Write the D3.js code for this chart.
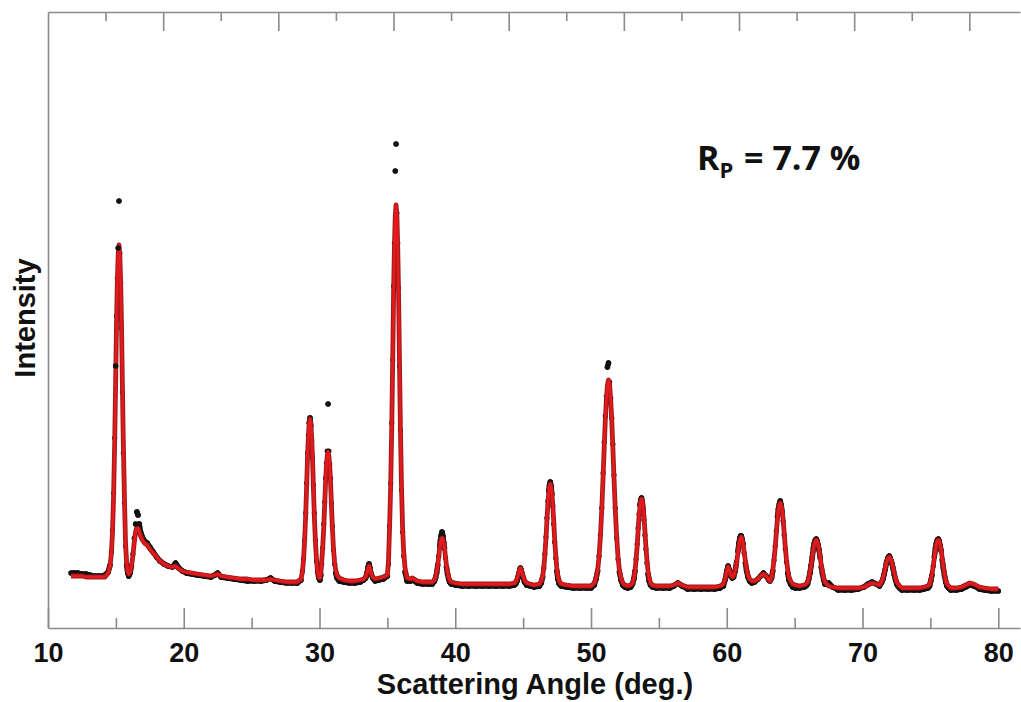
<!DOCTYPE html>
<html><head><meta charset="utf-8">
<script src="https://cdn.jsdelivr.net/npm/d3@7"></script>
<style>
body{margin:0;background:#fff;}
.lbl{font-family:"Liberation Sans",Arial,sans-serif;font-weight:bold;fill:#111;}
</style></head><body>
<svg id="chart" width="1021" height="702"></svg>
<script>
// ---- data: scattering angle (deg), observed and calculated intensities (arb. units) ----
const angles = [
 11.70,11.90,12.20,12.50,12.80,13.10,13.40,13.70,14.00,14.20,
 14.43,14.57,14.67,14.75,14.83,14.91,14.98,15.05,15.11,15.17,15.23,15.29,15.35,15.41,15.48,15.55,15.63,15.71,15.79,15.87,
 15.95,16.05,16.15,16.25,16.35,16.45,16.55,16.63,16.72,16.82,16.95,17.10,17.30,17.50,17.75,18.00,18.25,18.55,18.85,19.15,19.40,19.65,19.90,20.20,20.60,21.00,21.50,22.00,22.30,22.50,22.75,23.20,23.70,24.20,24.70,25.20,25.70,26.10,26.40,26.70,27.10,27.60,28.00,28.35,
 28.64,28.74,28.82,28.90,28.98,29.05,29.12,29.18,29.24,29.30,29.36,29.42,29.48,29.55,29.62,29.70,29.78,29.86,29.96,30.03,
 30.10,30.16,30.23,30.31,30.38,30.45,30.51,30.57,30.63,30.69,30.75,30.81,30.88,30.95,31.03,31.11,31.19,31.29,31.45,
 31.80,32.20,32.60,33.00,33.25,33.40,33.50,33.58,33.65,33.72,33.80,33.92,34.10,34.40,34.70,35.00,
 35.08,35.16,35.24,35.32,35.39,35.46,35.52,35.58,35.64,35.70,35.76,35.82,35.89,35.96,36.04,36.12,36.20,36.30,36.45,
 36.70,36.85,37.20,37.60,38.00,38.30,38.47,38.55,38.63,38.71,38.78,38.85,38.91,38.97,39.03,39.09,39.15,39.21,39.28,39.35,39.43,39.51,39.59,39.70,
 40.00,40.50,41.00,41.50,42.00,42.50,43.00,43.50,44.00,44.35,44.45,44.55,44.63,44.70,44.75,44.80,44.86,44.93,45.00,45.10,45.25,45.50,45.80,
 46.20,46.34,46.44,46.52,46.60,46.68,46.75,46.82,46.88,46.94,47.00,47.06,47.12,47.18,47.25,47.32,47.40,47.48,47.56,47.66,47.80,
 48.20,48.70,49.20,49.70,50.00,
 50.24,50.37,50.49,50.59,50.69,50.79,50.89,50.97,51.05,51.13,51.21,51.29,51.37,51.45,51.53,51.61,51.69,51.79,51.89,51.99,52.09,52.21,52.34,
 52.50,52.70,52.92,53.06,53.16,53.24,53.32,53.40,53.47,53.54,53.60,53.66,53.72,53.78,53.84,53.90,53.97,54.04,54.12,54.20,54.28,54.38,54.52,
 54.80,55.30,55.80,56.10,56.40,56.70,57.10,57.60,58.10,58.60,59.10,59.50,
 59.75,59.90,60.00,60.10,60.20,60.30,60.40,60.50,60.62,60.72,60.82,60.90,60.96,61.02,61.07,61.13,61.20,61.28,61.37,61.46,61.56,61.68,61.85,62.05,62.30,62.50,62.70,62.90,63.10,63.18,
 63.30,63.39,63.48,63.57,63.65,63.73,63.80,63.87,63.94,64.01,64.08,64.15,64.23,64.31,64.40,64.49,64.58,64.70,64.85,65.05,
 65.35,65.70,65.83,65.95,66.04,66.13,66.22,66.30,66.38,66.45,66.52,66.59,66.66,66.73,66.80,66.88,66.96,67.05,67.14,67.23,67.35,67.50,67.80,
 68.20,68.70,69.20,69.70,70.10,70.40,70.70,71.00,71.25,71.33,71.42,71.51,71.60,71.68,71.76,71.83,71.90,71.97,72.04,72.11,72.18,72.26,72.34,72.43,72.52,72.61,72.73,72.90,
 73.30,73.80,74.20,74.55,74.82,74.94,75.03,75.12,75.21,75.29,75.37,75.44,75.51,75.58,75.65,75.72,75.79,75.87,75.95,76.04,76.13,76.22,76.34,76.50,76.90,77.30,77.60,77.90,78.20,78.60,79.00,79.50,80.00
];
const calculated = [
 52,52,52,52,51,51,51,51,51,51,
 55,62,75,95,131,184,244,307,347,373,383,373,347,307,244,184,131,85,66,57,
 54,56,62,72,85,96,101,100,96,92,88,85,83,79,75,71,67,64,62,61,62,59,57,56,55,54,53,52,53,54,52,51,50,49,49,48,48,48,49,48,47,46,46,46,
 49,56,68,86,112,141,172,191,204,209,204,191,172,141,112,86,68,56,51,50,
 55,66,79,100,123,147,162,172,176,172,162,147,123,100,79,66,58,53,50,
 48,47,47,48,49,51,55,60,62,60,55,51,49,50,51,53,
 66,100,141,200,267,338,382,412,423,412,382,338,267,200,141,100,76,60,50,
 49,50,47,46,46,46,48,51,56,63,71,80,85,89,90,89,85,80,71,63,56,51,48,46,
 45,44,44,44,44,44,44,44,44,45,46,49,53,56,59,60,58,55,52,48,45,44,43,
 44,47,52,60,73,89,107,124,134,141,144,141,134,124,107,89,73,60,52,47,44,
 43,42,42,42,42,
 45,50,58,71,91,118,151,180,207,228,243,248,243,228,207,180,151,118,91,71,58,50,45,
 43,42,43,45,50,57,68,82,97,112,120,127,129,127,120,112,97,82,68,57,50,45,43,
 42,42,42,43,45,43,41,41,41,41,41,42,
 44,50,57,61,58,53,51,52,57,65,75,83,88,90,91,89,84,76,67,59,53,49,47,47,49,52,54,52,48,47,
 51,58,68,81,95,109,117,123,125,123,117,109,95,81,68,58,51,47,44,43,
 42,43,44,46,50,56,63,71,79,83,87,88,87,83,79,71,63,56,50,46,44,42,41,
 40,40,40,40,41,43,45,44,43,45,47,50,55,60,65,68,70,71,70,68,65,60,55,50,46,44,42,40,
 40,40,40,41,42,44,48,54,62,70,78,83,87,88,87,83,78,70,62,54,48,44,42,40,40,41,43,45,44,41,40,39,39
];
const observed = [
 55,55,55,54,54,53,52,52,52,53,
 56,63,76,98,135,190,262,312,350,380,427,375,345,300,236,175,125,82,63,55,
 52,55,62,74,90,104,116,113,104,96,91,87,85,81,76,71,67,64,62,61,65,60,57,55,54,53,52,51,53,55,51,50,49,48,47,47,47,48,50,47,46,45,45,45,
 48,57,69,88,115,145,175,193,205,210,202,188,170,143,115,88,67,56,50,48,
 53,64,80,104,126,150,165,177,224,177,164,150,125,102,78,64,55,50,47,
 46,45,45,46,48,50,55,61,64,60,54,50,47,48,49,52,
 64,102,145,205,268,342,385,457,484,415,385,340,262,198,138,96,72,56,47,
 47,48,45,44,44,44,47,50,55,63,72,82,88,93,96,92,86,80,70,61,54,49,46,44,
 43,42,42,42,42,42,42,42,42,43,44,47,51,55,58,60,58,54,50,46,43,42,41,
 42,45,51,60,74,91,110,127,137,143,146,142,134,122,104,86,70,57,49,44,42,
 41,40,40,40,40,
 43,49,57,72,93,120,155,186,212,232,261,265,246,230,210,184,153,120,90,69,56,48,43,
 41,40,41,44,49,57,69,84,100,114,123,128,130,126,118,108,93,79,65,54,47,43,41,
 40,40,40,42,45,42,39,39,39,39,39,40,
 42,49,57,62,58,52,50,51,57,66,77,85,90,92,92,89,84,75,65,57,51,47,45,46,49,52,55,52,48,47,
 50,57,68,82,97,111,119,124,127,123,116,107,93,79,66,55,48,44,41,40,
 40,41,42,44,49,55,63,71,80,85,88,89,87,83,78,70,61,54,48,44,44,45,41,
 38,38,38,39,41,44,46,44,42,44,46,49,54,59,65,68,71,72,70,67,64,59,53,48,44,42,40,38,
 38,38,38,39,40,42,47,53,62,71,80,85,88,89,87,82,77,68,60,52,46,42,40,38,38,39,41,43,42,39,38,37,37
];
const xTicksMajor = [10,20,30,40,50,60,70,80];
const xTicksMinor = [15,25,35,45,55,65,75];
const topTicksMajor = [1,2,3,4,5,6,7,8];
const topTicksMinor = [0.5,1.5,2.5,3.5,4.5,5.5,6.5,7.5];
const xTitle = "Scattering Angle (deg.)";
const yTitle = "Intensity";
const rpMain = "R", rpSub = "P", rpRest = " = 7.7 %";

// ---- layout ----
const svg = d3.select("#chart");
const L = 48, R = 1020, T = 12, B = 628;
const x = d3.scaleLinear().domain([10, 81.6]).range([L, R]);
const xTop = d3.scaleLinear().domain([0, 8.44]).range([L, R]);
const y = d3.scaleLinear().domain([0, 616]).range([B, T]);
const axisColor = "#8a8a8a";

const pts = angles.map((a, i) => ({a, o: observed[i], c: calculated[i]}));

// observed: dense points merge into a band; isolated points stay as dots
const gObs = svg.append("g");
const segs = [];
for (let i = 0; i < pts.length - 1; i++) {
  if (Math.abs(y(pts[i].o) - y(pts[i+1].o)) < 9) segs.push([pts[i], pts[i+1]]);
}
gObs.selectAll("line").data(segs).join("line")
  .attr("x1", d => x(d[0].a)).attr("y1", d => y(d[0].o))
  .attr("x2", d => x(d[1].a)).attr("y2", d => y(d[1].o))
  .attr("stroke", "#111").attr("stroke-width", 5.4).attr("stroke-linecap", "round");
gObs.selectAll("circle").data(pts).join("circle")
  .attr("cx", d => x(d.a)).attr("cy", d => y(d.o)).attr("r", 2.6).attr("fill", "#111");

// calculated profile
const line = d3.line().x(d => x(d.a)).y(d => y(d.c));
svg.append("path").datum(pts).attr("d", line).attr("fill", "none")
  .attr("stroke", "#9a1b1b").attr("stroke-width", 4.8).attr("stroke-linejoin", "round");
svg.append("path").datum(pts).attr("d", line).attr("fill", "none")
  .attr("stroke", "#e3191c").attr("stroke-width", 2.8).attr("stroke-linejoin", "round");

// isolated observed points (outliers) above the curve
svg.append("g").selectAll("circle").data(pts.filter(d => d.o - d.c > 6)).join("circle")
  .attr("cx", d => x(d.a)).attr("cy", d => y(d.o)).attr("r", 2.7).attr("fill", "#111");

// ---- axes ----
function styleAxis(g) {
  g.selectAll("path,line").attr("stroke", axisColor).attr("stroke-width", 1.6);
}
const gx = svg.append("g").attr("transform", `translate(0,${B})`)
  .call(d3.axisBottom(x).tickValues(xTicksMajor).tickSize(-20).tickSizeOuter(0).tickPadding(15).tickFormat(d3.format("d")));
gx.call(styleAxis);
gx.selectAll("text").attr("class", "lbl").style("font-size", "27px");
const gxm = svg.append("g").attr("transform", `translate(0,${B})`)
  .call(d3.axisBottom(x).tickValues(xTicksMinor).tickSize(-10).tickFormat(""));
gxm.call(styleAxis); gxm.select(".domain").remove();

const gt = svg.append("g").attr("transform", `translate(0,${T})`)
  .call(d3.axisTop(xTop).tickValues(topTicksMajor).tickSize(-19).tickSizeOuter(0).tickFormat(""));
gt.call(styleAxis);
const gtm = svg.append("g").attr("transform", `translate(0,${T})`)
  .call(d3.axisTop(xTop).tickValues(topTicksMinor).tickSize(-9).tickFormat(""));
gtm.call(styleAxis); gtm.select(".domain").remove();

const gy = svg.append("g").attr("transform", `translate(${L},0)`)
  .call(d3.axisLeft(y).tickValues([]).tickSizeOuter(0));
gy.call(styleAxis);

// ---- titles ----
svg.append("text").attr("class", "lbl").attr("x", 535).attr("y", 694)
  .attr("text-anchor", "middle").style("font-size", "29px").text(xTitle);
svg.append("text").attr("class", "lbl").attr("transform", "translate(35,318) rotate(-90)")
  .attr("text-anchor", "middle").style("font-size", "29px").text(yTitle);

const rp = svg.append("text").attr("x", 697).attr("y", 170)
  .style("font-family", "'Open Sans',sans-serif").style("font-weight", "bold")
  .style("font-size", "34px").attr("fill", "#111");
rp.append("tspan").text(rpMain);
rp.append("tspan").attr("dy", 8).style("font-size", "22px").text(rpSub);
rp.append("tspan").attr("dy", -8).attr("dx", 2).text(rpRest);
</script>
</body></html>
